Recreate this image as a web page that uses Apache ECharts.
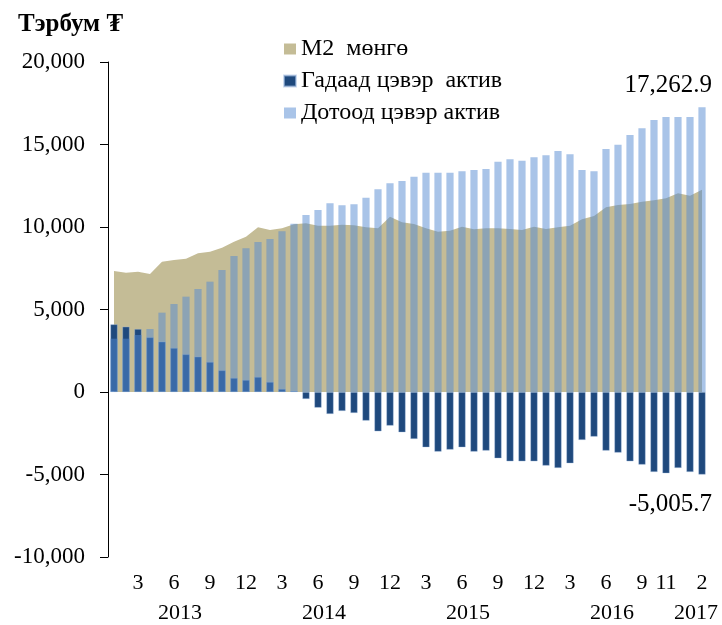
<!DOCTYPE html>
<html>
<head>
<meta charset="utf-8">
<script src="https://cdn.jsdelivr.net/npm/echarts@6/dist/echarts.min.js"></script>
<style>
html,body{margin:0;padding:0;background:#fff;}
#chart{width:722px;height:625px;}
</style>
</head>
<body>
<div id="chart"></div>
<script>
const categories = [
  '2013-01','2013-02','2013-03','2013-04','2013-05','2013-06','2013-07','2013-08','2013-09','2013-10','2013-11','2013-12',
  '2014-01','2014-02','2014-03','2014-04','2014-05','2014-06','2014-07','2014-08','2014-09','2014-10','2014-11','2014-12',
  '2015-01','2015-02','2015-03','2015-04','2015-05','2015-06','2015-07','2015-08','2015-09','2015-10','2015-11','2015-12',
  '2016-01','2016-02','2016-03','2016-04','2016-05','2016-06','2016-07','2016-08','2016-09','2016-10','2016-11','2016-12',
  '2017-01','2017-02'
];
const monthTickLabels = [
  '','','3','','','6','','','9','','','12',
  '','','3','','','6','','','9','','','12',
  '','','3','','','6','','','9','','','12',
  '','','3','','','6','','','9','','11','',
  '','2'
];
const yearLabels = ['2013','2014','2015','2016','2017'];

const m2Money = [
  7333, 7232, 7292, 7151, 7898, 8000, 8080, 8403, 8504, 8747, 9110, 9413,
  9979, 9817, 9918, 10161, 10221, 10080, 10080, 10140, 10100, 9990, 9918, 10625,
  10282, 10181, 9918, 9716, 9777, 10019, 9858, 9918, 9918, 9878, 9817, 10019,
  9878, 9979, 10080, 10464, 10666, 11191, 11332, 11393, 11534, 11615, 11736, 12039,
  11898, 12257.2
];
const foreignNet = [
  4100, 3960, 3818, 3313, 3050, 2666, 2283, 2141, 1818, 1313, 848, 727,
  909, 606, 182, 60, -424, -950, -1333, -1151, -1273, -1737, -2384, -2040,
  -2444, -2848, -3353, -3616, -3495, -3353, -3616, -3555, -4020, -4202, -4202, -4202,
  -4464, -4606, -4323, -2909, -2707, -3555, -3676, -4202, -4404, -4848, -4929, -4606,
  -4848, -5005.7
];
const domesticNet = [
  3232, 3232, 3454, 3818, 4808, 5333, 5777, 6242, 6686, 7393, 8242, 8706,
  9090, 9272, 9736, 10201, 10726, 11029, 11433, 11312, 11373, 11777, 12282, 12645,
  12787, 13049, 13292, 13292, 13292, 13372, 13453, 13514, 13958, 14100, 14019, 14221,
  14342, 14605, 14403, 13453, 13372, 14726, 14988, 15574, 15978, 16483, 16665, 16665,
  16665, 17262.9
];

const FONT = 'Liberation Serif';
const fmtNum = v => Number(v).toLocaleString('en-US', {maximumFractionDigits: 1});
const fmtLabel = v => Number(v).toLocaleString('en-US', {minimumFractionDigits: 1, maximumFractionDigits: 1});

// year label positions: centre of each year's months on a 0..N scale
const yearPos = {};
yearLabels.forEach(y => {
  const idx = categories.map((c, i) => c.startsWith(y) ? i + 0.5 : null).filter(v => v !== null);
  const mid = idx.reduce((a, b) => a + b, 0) / idx.length;
  yearPos[Math.round(mid)] = y;
});

function lastLabel(arr, labelOpt) {
  return arr.map((v, i) => i === arr.length - 1 ? {value: v, label: labelOpt} : v);
}

const chart = echarts.init(document.getElementById('chart'));
chart.setOption({
  animation: false,
  backgroundColor: '#fff',
  title: {
    text: 'Тэрбум ₮',
    left: 13, top: 7,
    textStyle: {fontFamily: FONT, fontSize: 25, fontWeight: 'bold', color: '#000'}
  },
  legend: {
    orient: 'vertical',
    left: 278, top: 32,
    itemWidth: 12, itemHeight: 11,
    itemGap: 8,
    icon: 'rect',
    textStyle: {fontFamily: FONT, fontSize: 24, color: '#000', lineHeight: 24},
    data: ['M2  мөнгө', 'Гадаад цэвэр  актив', 'Дотоод цэвэр актив']
  },
  grid: {left: 108, right: 14, top: 62, bottom: 68, containLabel: false},
  xAxis: [{
    type: 'category',
    data: categories,
    boundaryGap: true,
    axisLine: {show: false},
    axisTick: {show: false},
    axisLabel: {
      interval: 0, margin: 15,
      fontFamily: FONT, fontSize: 22, color: '#000',
      formatter: (v, i) => monthTickLabels[i]
    },
    splitLine: {show: false}
  }, {
    type: 'value',
    min: 0, max: categories.length, interval: 1,
    position: 'bottom', offset: 30,
    axisLine: {show: false},
    axisTick: {show: false},
    splitLine: {show: false},
    axisLabel: {
      margin: 15, fontFamily: FONT, fontSize: 22, color: '#000',
      showMinLabel: true, showMaxLabel: true,
      formatter: v => yearPos[v] || ''
    }
  }],
  yAxis: {
    type: 'value',
    min: -10000, max: 20000, interval: 5000,
    axisLine: {show: true, lineStyle: {color: '#000', width: 1}},
    axisTick: {show: true, inside: false, length: 8, lineStyle: {color: '#000'}},
    splitLine: {show: false},
    axisLabel: {
      margin: 23, fontFamily: FONT, fontSize: 23, color: '#000',
      formatter: v => fmtNum(v)
    }
  },
  series: [{
    name: 'M2  мөнгө',
    type: 'line',
    data: m2Money,
    z: 1,
    showSymbol: false,
    symbol: 'none',
    lineStyle: {width: 0, color: '#c4bc96'},
    itemStyle: {color: '#c4bc96'},
    areaStyle: {color: '#c4bc96', opacity: 1}
  }, {
    name: 'Гадаад цэвэр  актив',
    type: 'bar',
    data: lastLabel(foreignNet, {
      show: true, position: 'bottom', distance: 17,
      align: 'right', offset: [10, 0],
      fontFamily: FONT, fontSize: 25, color: '#000',
      formatter: p => fmtLabel(p.value)
    }),
    z: 2,
    barWidth: '60%',
    barGap: '-100%',
    itemStyle: {color: '#1f497d', borderColor: 'rgba(170,195,230,0.6)', borderWidth: 0.6}
  }, {
    name: 'Дотоод цэвэр актив',
    type: 'bar',
    data: lastLabel(domesticNet, {
      show: true, position: 'top', distance: 9,
      align: 'right', offset: [10, 0],
      fontFamily: FONT, fontSize: 25, color: '#000',
      formatter: p => fmtLabel(p.value)
    }),
    z: 3,
    barWidth: '60%',
    barGap: '-100%',
    itemStyle: {color: 'rgba(83,137,209,0.5)'}
  }]
});
</script>
</body>
</html>
